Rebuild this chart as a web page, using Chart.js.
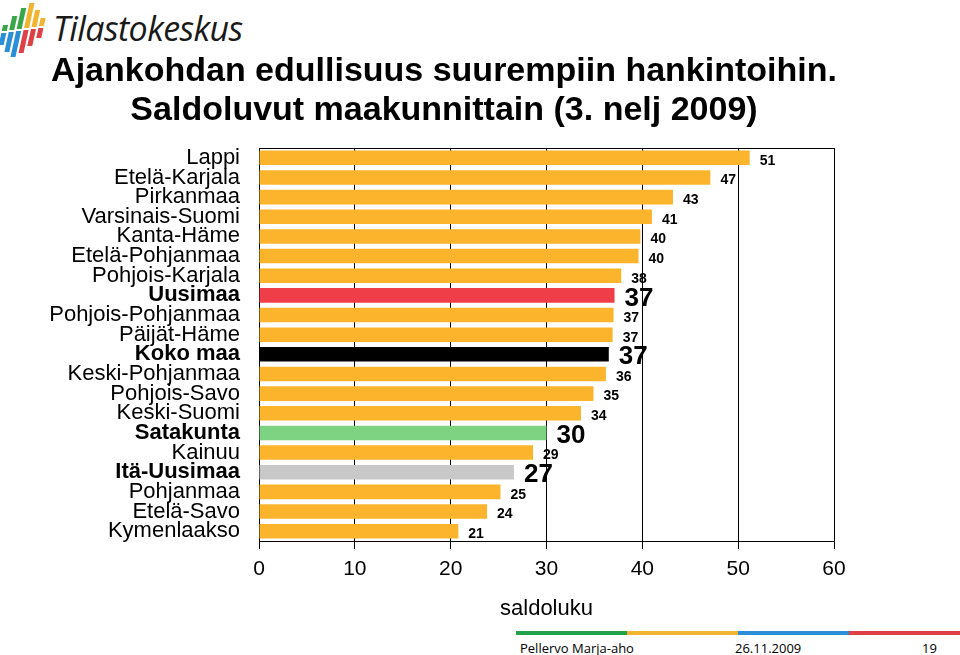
<!DOCTYPE html>
<html>
<head>
<meta charset="utf-8">
<script src="https://cdn.jsdelivr.net/npm/chart.js@4/dist/chart.umd.min.js"></script>
<style>
  body { margin: 0; width: 960px; height: 655px; background: #fff; position: relative; overflow: hidden; font-family: "Liberation Sans", Arial, sans-serif; }
  #logo { position: absolute; left: 0px; top: 0px; }
  #brand { position: absolute; left: 53px; top: 5px; font-family: "Open Sans", "Noto Sans", sans-serif; font-style: italic; font-size: 34px; color: #1a1a1a; letter-spacing: -0.6px; }
  #title { position: absolute; left: 0; width: 888px; top: 50px; text-align: center; font-family: "Liberation Sans", Arial, sans-serif; font-weight: bold; font-size: 34px; line-height: 39px; color: #000; }
  #wrap { position: absolute; left: 0; top: 140px; width: 960px; height: 490px; }
  .bar { position: absolute; top: 631px; height: 4px; width: 111px; }
  .foot { position: absolute; top: 639px; font-family: "Open Sans", "Noto Sans", sans-serif; font-size: 13px; color: #000; }
</style>
</head>
<body>
<canvas id="logo" width="52" height="60"></canvas>
<div id="brand">Tilastokeskus</div>
<div id="title">Ajankohdan edullisuus suurempiin hankintoihin.<br>Saldoluvut maakunnittain (3. nelj 2009)</div>
<div id="wrap"><canvas id="myChart"></canvas></div>
<div class="bar" style="left:516px;background:#22a24a"></div>
<div class="bar" style="left:627px;background:#f2b330"></div>
<div class="bar" style="left:738px;background:#2a8fd6"></div>
<div class="bar" style="left:849px;background:#dd4146"></div>
<div class="foot" style="left:520px">Pellervo Marja-aho</div>
<div class="foot" style="left:735px">26.11.2009</div>
<div class="foot" style="left:922px">19</div>
<script>
// Tiedot
const alueet = ['Lappi', 'Etelä-Karjala', 'Pirkanmaa', 'Varsinais-Suomi', 'Kanta-Häme', 'Etelä-Pohjanmaa',
    'Pohjois-Karjala', 'Uusimaa', 'Pohjois-Pohjanmaa', 'Päijät-Häme', 'Koko maa', 'Keski-Pohjanmaa',
    'Pohjois-Savo', 'Keski-Suomi', 'Satakunta', 'Kainuu', 'Itä-Uusimaa', 'Pohjanmaa', 'Etelä-Savo', 'Kymenlaakso'];
const saldot = [51.2, 47.1, 43.2, 41.0, 39.8, 39.6, 37.8, 37.1, 37.0, 36.9, 36.5, 36.2, 34.9, 33.6, 30.0, 28.6, 26.6, 25.2, 23.8, 20.8];
const korostetut = ['Uusimaa', 'Koko maa', 'Satakunta', 'Itä-Uusimaa'];
const xTicks = [0, 10, 20, 30, 40, 50, 60];

const varit = alueet.map(a => {
    if (a === 'Uusimaa') return '#f03e48';
    if (a === 'Koko maa') return '#000000';
    if (a === 'Satakunta') return '#7dd381';
    if (a === 'Itä-Uusimaa') return '#c8c8c8';
    return '#fcb42c';
});

// logo
(function() {
    const c = document.getElementById('logo').getContext('2d');
    const cols = [
        { top: '#3aa64a', bot: '#2a8fd6', t: 25, m: 32, b: 45 },
        { top: '#3aa64a', bot: '#2a8fd6', t: 16, m: 31, b: 52 },
        { top: '#3aa64a', bot: '#2a8fd6', t: 8, m: 30, b: 57 },
        { top: '#f2b330', bot: '#dd4146', t: 3, m: 29, b: 53 },
        { top: '#f2b330', bot: '#dd4146', t: 10, m: 28, b: 46 },
        { top: '#f2b330', bot: '#dd4146', t: 18, m: 27, b: 38 }
    ];
    cols.forEach((col, i) => {
        const x = 2 + i * 7.2;
        const slope = 0.22;
        function seg(y1, y2, color) {
            c.fillStyle = color;
            c.beginPath();
            c.moveTo(x + (30 - y1) * slope, y1);
            c.lineTo(x + 5 + (30 - y1) * slope, y1);
            c.lineTo(x + 5 + (30 - y2) * slope, y2);
            c.lineTo(x + (30 - y2) * slope, y2);
            c.closePath();
            c.fill();
        }
        seg(col.t, col.m - 1, col.top);
        seg(col.m + 1, col.b, col.bot);
    });
})();

const arvoPlugin = {
    id: 'arvot',
    afterDatasetsDraw(chart) {
        const ctx = chart.ctx;
        const meta = chart.getDatasetMeta(0);
        ctx.save();
        ctx.fillStyle = '#000';
        ctx.textAlign = 'left';
        ctx.textBaseline = 'middle';
        meta.data.forEach((bar, i) => {
            const iso = korostetut.includes(alueet[i]);
            ctx.font = iso ? 'bold 26px "Liberation Sans", Arial' : 'bold 14px "Liberation Sans", Arial';
            ctx.fillText(Math.round(saldot[i]), bar.x + 10, bar.y + 3);
        });
        ctx.restore();
    }
};

const kehysPlugin = {
    id: 'kehys',
    afterDraw(chart) {
        const a = chart.chartArea;
        const ctx = chart.ctx;
        ctx.save();
        ctx.strokeStyle = '#000';
        ctx.lineWidth = 1;
        ctx.beginPath();
        ctx.moveTo(a.left, a.top + 0.5);
        ctx.lineTo(a.right, a.top + 0.5);
        ctx.stroke();
        ctx.restore();
    }
};

const ctx = document.getElementById('myChart').getContext('2d');
const myChart = new Chart(ctx, {
    type: 'bar',
    data: {
        labels: alueet,
        datasets: [{
            data: saldot,
            backgroundColor: varit,
            barPercentage: 0.74,
            categoryPercentage: 1.0
        }]
    },
    options: {
        indexAxis: 'y',
        responsive: true,
        maintainAspectRatio: false,
        animation: false,
        layout: { padding: { left: 0, right: 126, top: 8, bottom: 0 } },
        plugins: { legend: { display: false }, tooltip: { enabled: false } },
        scales: {
            x: {
                min: 0,
                max: 60,
                afterBuildTicks: s => { s.ticks = xTicks.map(v => ({ value: v })); },
                afterFit: s => { s.height = 89; s.paddingLeft = 0; s.paddingRight = 0; },
                grid: { color: '#000', lineWidth: 1, tickLength: 8, drawOnChartArea: true },
                border: { color: '#000', width: 1 },
                ticks: { color: '#000', font: { family: '"Liberation Sans", Arial', size: 21 }, padding: 8 },
                title: { display: true, text: 'saldoluku', color: '#000', font: { family: '"Liberation Sans", Arial', size: 22 }, padding: { top: 0, bottom: 8 } }
            },
            y: {
                afterFit: s => { s.width = 259; s.paddingTop = 0; s.paddingBottom = 0; },
                grid: { display: false, drawTicks: false },
                border: { display: true, color: '#000', width: 1 },
                ticks: {
                    color: '#000',
                    padding: 19,
                    autoSkip: false,
                    font: c => ({
                        family: '"Liberation Sans", Arial',
                        size: 22,
                        lineHeight: 1,
                        weight: korostetut.includes(alueet[c.index]) ? 'bold' : 'normal'
                    })
                }
            }
        }
    },
    plugins: [arvoPlugin, kehysPlugin]
});
</script>
</body>
</html>
